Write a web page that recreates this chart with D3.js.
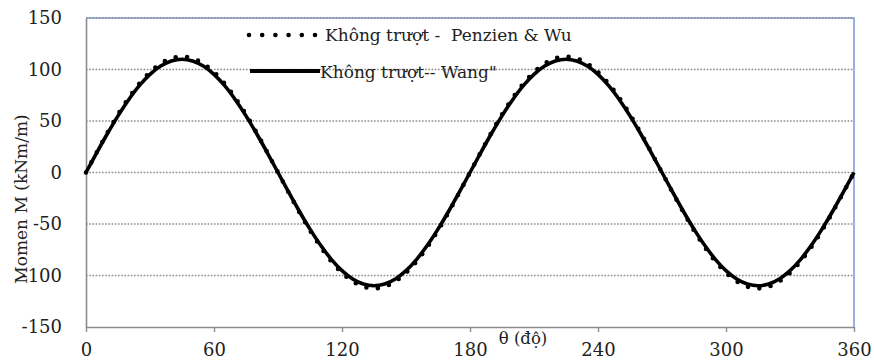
<!DOCTYPE html>
<html>
<head>
<meta charset="utf-8">
<script src="https://cdn.jsdelivr.net/npm/d3@7"></script>
<style>
  html, body { margin: 0; padding: 0; background: #fff; }
  svg text { font-family: "DejaVu Serif", "Liberation Serif", serif; fill: #222; white-space: pre; }
</style>
</head>
<body>
<svg id="chart" width="874" height="364"></svg>
<script>
// Bending moment around the lining, every 5 degrees
const theta = d3.range(0, 361, 5);

const penzienWu = [
  0, 19.5, 38.5, 56.3, 72.3, 86.2, 97.4, 105.7, 110.8, 112.5,
  110.8, 105.7, 97.4, 86.2, 72.3, 56.3, 38.5, 19.5, 0,
  -19.5, -38.5, -56.3, -72.3, -86.2, -97.4, -105.7, -110.8, -112.5,
  -110.8, -105.7, -97.4, -86.2, -72.3, -56.3, -38.5, -19.5, 0,
  19.5, 38.5, 56.3, 72.3, 86.2, 97.4, 105.7, 110.8, 112.5,
  110.8, 105.7, 97.4, 86.2, 72.3, 56.3, 38.5, 19.5, 0,
  -19.5, -38.5, -56.3, -72.3, -86.2, -97.4, -105.7, -110.8, -112.5,
  -110.8, -105.7, -97.4, -86.2, -72.3, -56.3, -38.5, -19.5, 0
];

const wang = [
  0, 19.1, 37.6, 55.0, 70.7, 84.3, 95.3, 103.4, 108.3, 110.0,
  108.3, 103.4, 95.3, 84.3, 70.7, 55.0, 37.6, 19.1, 0,
  -19.1, -37.6, -55.0, -70.7, -84.3, -95.3, -103.4, -108.3, -110.0,
  -108.3, -103.4, -95.3, -84.3, -70.7, -55.0, -37.6, -19.1, 0,
  19.1, 37.6, 55.0, 70.7, 84.3, 95.3, 103.4, 108.3, 110.0,
  108.3, 103.4, 95.3, 84.3, 70.7, 55.0, 37.6, 19.1, 0,
  -19.1, -37.6, -55.0, -70.7, -84.3, -95.3, -103.4, -108.3, -110.0,
  -108.3, -103.4, -95.3, -84.3, -70.7, -55.0, -37.6, -19.1, 0
];

const xTicks = [0, 60, 120, 180, 240, 300, 360];
const yTicks = [-150, -100, -50, 0, 50, 100, 150];
const seriesNames = ["Không trượt -  Penzien & Wu", "Không trượt-- Wang\""];
const xTitle = "θ (độ)";
const yTitle = "Momen M (kNm/m)";

const svg = d3.select("#chart");
const plotLeft = 86, plotRight = 854, plotTop = 18, plotBottom = 327;

const x = d3.scaleLinear().domain([0, 360]).range([plotLeft, plotRight]);
const y = d3.scaleLinear().domain([-150, 150]).range([plotBottom, plotTop]);

// plain hyphen for negative tick labels
const plainNumber = v => String(v);

// plot frame (top and right edges)
svg.append("path")
  .attr("d", `M${plotLeft},${plotTop}H${plotRight}V${plotBottom}`)
  .attr("fill", "none")
  .attr("stroke", "#7f9fd8")
  .attr("stroke-width", 1.6);

// dotted horizontal gridlines
svg.append("g")
  .selectAll("line")
  .data(yTicks.filter(v => v > -150))
  .join("line")
  .attr("x1", plotLeft).attr("x2", plotRight)
  .attr("y1", d => y(d)).attr("y2", d => y(d))
  .attr("stroke", "#8a8a8a")
  .attr("stroke-width", 1.3)
  .attr("stroke-dasharray", "1.6 1.6");

// y axis
const yAxis = svg.append("g")
  .attr("transform", `translate(${plotLeft},0)`)
  .call(d3.axisLeft(y).tickValues(yTicks).tickFormat(plainNumber).tickSize(0).tickPadding(24));
yAxis.select(".domain").attr("stroke", "#8c8c8c").attr("stroke-width", 1.6);
yAxis.selectAll("text")
  .attr("font-size", 18)
  .style("font-family", "'DejaVu Serif', serif")
  .attr("fill", "#222");

// x axis
const xAxis = svg.append("g")
  .attr("transform", `translate(0,${plotBottom})`)
  .call(d3.axisBottom(x).tickValues(xTicks).tickFormat(plainNumber).tickSize(5).tickSizeOuter(0).tickPadding(11));
xAxis.select(".domain").attr("stroke", "#8c8c8c").attr("stroke-width", 1.6);
xAxis.selectAll(".tick line").attr("stroke", "#8c8c8c").attr("stroke-width", 1.4);
xAxis.selectAll("text")
  .attr("font-size", 18)
  .style("font-family", "'DejaVu Serif', serif")
  .attr("fill", "#222");

// axis titles
svg.append("text")
  .attr("transform", `translate(27,199) rotate(-90)`)
  .attr("text-anchor", "middle")
  .attr("font-size", 17)
  .text(yTitle);

svg.append("text")
  .attr("x", 523).attr("y", 344)
  .attr("text-anchor", "middle")
  .attr("font-size", 16.5)
  .text(xTitle);

// curves
const line = d3.line()
  .x((d, i) => x(theta[i]))
  .y(d => y(d))
  .curve(d3.curveCatmullRom);

svg.append("path")
  .datum(wang)
  .attr("d", line)
  .attr("fill", "none")
  .attr("stroke", "#000")
  .attr("stroke-width", 3.6);

svg.append("path")
  .datum(penzienWu)
  .attr("d", line)
  .attr("fill", "none")
  .attr("stroke", "#000")
  .attr("stroke-width", 4.6)
  .attr("stroke-linecap", "round")
  .attr("stroke-dasharray", "0 11.5");

// legend
const legend = svg.append("g");
legend.append("line")
  .attr("x1", 249).attr("x2", 316).attr("y1", 35).attr("y2", 35)
  .attr("stroke", "#000").attr("stroke-width", 4.6)
  .attr("stroke-linecap", "round").attr("stroke-dasharray", "0 13.2");
legend.append("text")
  .attr("x", 325).attr("y", 41)
  .attr("font-size", 17)
  .attr("xml:space", "preserve")
  .text(seriesNames[0]);

legend.append("line")
  .attr("x1", 250).attr("x2", 320).attr("y1", 71).attr("y2", 71)
  .attr("stroke", "#000").attr("stroke-width", 4);
legend.append("text")
  .attr("x", 320).attr("y", 78)
  .attr("font-size", 17)
  .attr("xml:space", "preserve")
  .text(seriesNames[1]);
</script>
</body>
</html>
